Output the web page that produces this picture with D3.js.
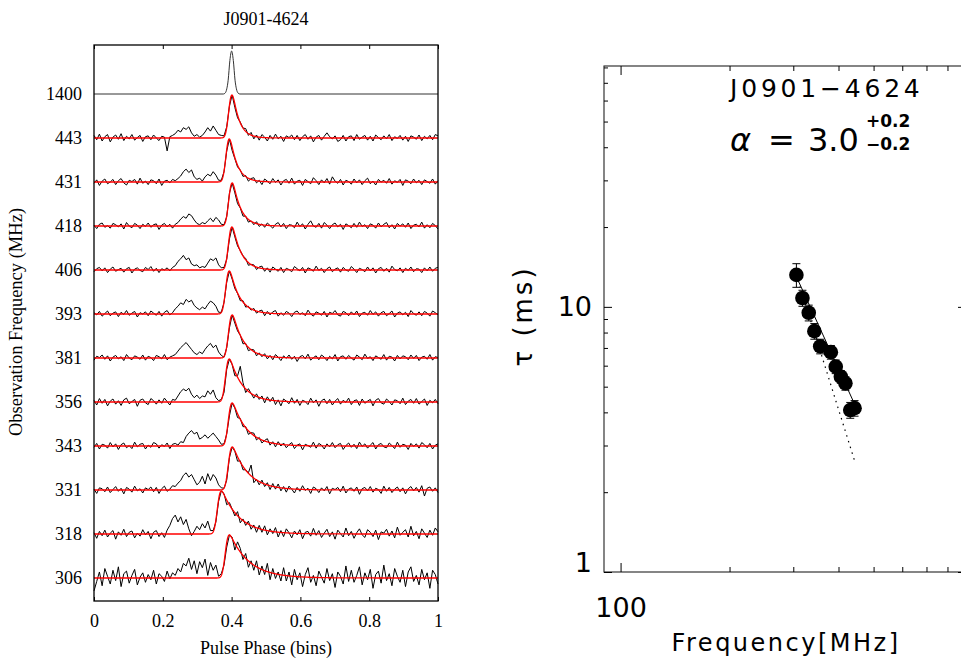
<!DOCTYPE html>
<html>
<head>
<meta charset="utf-8">
<script src="https://cdnjs.cloudflare.com/ajax/libs/d3/7.8.5/d3.min.js"></script>
<style>
  body { margin: 0; background: #fff; }
</style>
</head>
<body>
<div id="chart"></div>
<script>
// ---- left panel: profiles per observing channel (top to bottom) ----
const channelLabels = ['1400', '443', '431', '418', '406', '393', '381', '356', '343', '331', '318', '306'];
const phaseTicks = [0, 0.2, 0.4, 0.6, 0.8, 1];

// 1400 MHz template, [phase, relative flux]
const template1400 = [[0, 0], [0.376, 0], [0.381, 0.02], [0.386, 0.12], [0.39, 0.32], [0.395, 0.78],
  [0.4, 1], [0.405, 0.78], [0.41, 0.32], [0.414, 0.12], [0.419, 0.02], [0.424, 0], [1, 0]];

// observed profiles, 128 phase bins, % of peak
const prof443 = [6, -4, 9, -7, 3, 8, -9, 2, 7, -3, 10, -6, 4, -2, 8, -5, 1, 6, -8, 3,
  5, -4, 7, 0, -6, 4, 2, -30, 3, 6, 10, 18, 14, 24, 20, 26, 12, 4, 8, 2,
  6, 14, 24, 16, 28, 18, 8, 6, 5, 26, 74, 100, 71, 47, 37, 23, 22, 6, 13, -2,
  7, -5, 8, 2, -7, 6, -3, 9, -2, 4, -8, 5, 1, 7, -4, 6, -6, 3, 8, -3,
  5, -9, 2, 6, -5, 4, 12, 3, -2, 5, -8, -4, 6, -7, 3, 5, -6, 8, -3, 2,
  6, -5, 4, -7, 7, 1, -4, 5, -2, 8, -6, 3, -1, 6, -5, 4, -8, 5, 2, -3,
  7, -6, 4, -2, 6, -4, 8, 5];
const prof431 = [-3, 5, -8, 2, 7, -4, 0, 6, -6, 3, 8, -2, -7, 4, 1, 6, -5, 9, -3, 2,
  -6, 5, 3, -4, 7, -8, 2, 4, -2, 6, 3, 8, 14, 24, 30, 22, 28, 12, 6, 9,
  2, 12, 18, 14, 24, 16, 4, 4, 24, 72, 100, 73, 54, 35, 28, 13, 15, 2, 8, 10,
  -2, 4, -6, 7, 2, -4, 8, -1, 5, -7, 3, 6, -3, 9, -5, 2, 4, -8, 6, 1,
  -4, 10, 3, -6, 5, -2, 8, -5, 12, 2, -3, 6, -7, 4, 1, -5, 7, -2, 5, -6,
  3, 9, -4, 2, -7, 6, 0, 4, -3, 8, -5, 3, -1, 6, -8, 5, 2, -4, 7, -2,
  4, -6, 5, 1, -3, 7, -5, 3];
const prof418 = [2, -6, 4, 7, -3, 1, -5, 6, 3, -2, 5, -7, 8, 0, -4, 6, 2, -6, 4, -1,
  7, -3, 3, 5, -8, 2, 6, -2, 4, -5, 4, 8, 16, 22, 18, 28, 24, 14, 6, 3,
  8, 5, 12, 18, 10, 20, 14, 4, 3, 22, 76, 100, 77, 52, 42, 23, 23, 9, 12, 3,
  10, -1, 5, -3, 7, 1, -5, 4, 8, -2, 6, -6, 3, 2, -4, 9, -1, 5, -7, 4,
  12, 0, -3, 6, -5, 8, 2, -6, 3, 7, -2, 4, -8, 5, 1, -4, 6, -3, 9, -1,
  3, -6, 5, 2, -5, 7, -2, 4, 8, -4, 3, -7, 6, 0, 5, -3, 7, -6, 2, 4,
  -2, 9, -5, 3, -4, 6, 1, -7];
const prof406 = [-4, 3, 6, -2, 5, -6, 2, 7, -3, 1, 4, -5, 3, 6, -7, 2, 5, -1, -4, 6,
  1, 8, -3, 4, -6, 3, 0, 5, -2, 6, 10, 20, 26, 34, 24, 28, 14, 10, 12, 5,
  8, 6, 16, 26, 22, 28, 12, 5, 6, 25, 72, 100, 77, 56, 45, 33, 27, 11, 13, 12,
  1, 7, 9, -3, 5, -5, 7, 2, -3, 6, -6, 4, 1, -4, 8, 3, -2, 6, -7, 5,
  2, -3, 9, -1, 4, -6, 3, 7, -4, 2, 5, -5, 6, 0, -3, 8, 2, -6, 4, 1,
  -4, 7, -2, 5, -7, 3, 6, -3, 4, -5, 9, 1, -2, 5, -6, 4, -1, 7, -4, 3,
  2, -6, 5, -2, 7, -3, 4, 6];
const prof393 = [3, -2, 6, -5, 1, 7, -4, 2, 5, -6, 4, -1, 8, -3, 2, 6, -7, 3, 0, 5,
  -4, 7, 2, -3, 6, -5, 4, 8, -2, 3, 12, 18, 26, 22, 34, 28, 32, 20, 14, 10,
  16, 12, 22, 30, 26, 18, 4, 4, 27, 74, 100, 81, 59, 48, 31, 31, 16, 18, 9, 13,
  2, 7, 9, -4, 6, -2, 5, 8, -5, 3, -3, 6, 2, -6, 4, 7, -1, 3, -4, 9,
  0, -5, 5, 2, -3, 6, -7, 4, 1, 8, -2, -5, 6, 3, -4, 5, -2, 7, -6, 2,
  4, -3, 8, -1, 5, -5, 3, 6, -4, 1, 7, -7, 2, 5, -2, 4, -6, 8, 1, -3,
  5, -4, 6, 2, -5, 7, 3, -2];
const prof381 = [-5, 4, 1, 7, -3, 5, -7, 2, 6, -2, 3, -6, 8, 0, -4, 5, 2, -3, 7, -5,
  4, 1, -6, 6, 3, -2, 8, -4, 2, 5, 8, 16, 24, 30, 36, 28, 20, 12, 8, 14,
  10, 20, 28, 34, 24, 30, 14, 6, 2, 24, 70, 100, 81, 63, 53, 33, 34, 17, 20, 19,
  5, 12, 3, 10, -2, 6, -4, 8, 2, -6, 5, -1, 7, -3, 4, -8, 3, 6, -2, 9,
  -5, 1, 5, -4, 7, 2, -6, 4, -2, 8, -7, 3, 5, -3, 6, 0, -5, 7, 2, -4,
  9, -1, 3, -6, 5, 1, -3, 8, -5, 4, 2, -7, 6, -2, 5, 3, -4, 7, -1, 6,
  -6, 2, 4, -3, 8, -5, 3, 1];
const prof356 = [4, -7, 8, -3, 6, -9, 2, 7, -5, 3, -8, 5, 9, -4, 1, 6, -10, 4, 7, -2,
  -6, 8, 3, -5, 5, -3, 9, 1, -7, 6, 4, 14, 24, 30, 26, 32, 18, 10, 16, 8,
  14, 12, 26, 18, 28, 10, 3, 6, 22, 76, 100, 87, 61, 61, 83, 45, 22, 31, 20, 9,
  19, 6, 14, -2, 12, 1, 11, -6, 5, -9, 7, 2, -4, 10, -3, 6, -8, 4, 1, -6,
  9, -2, 5, -10, 3, 7, -4, 6, -7, 2, 8, -5, 4, -1, 9, -6, 3, 5, -8, 7,
  -3, 2, 6, -9, 4, 8, -2, -5, 7, 1, -7, 5, 3, -4, 9, -6, 2, 6, -3, 8,
  -5, 1, 7, -8, 4, -2, 6, -4];
const prof343 = [-3, 6, -7, 4, 2, -5, 8, -2, 5, -8, 3, 7, -4, 1, -6, 9, -2, 4, 6, -7,
  2, -3, 8, 5, -5, 3, -1, 7, -6, 4, 6, 2, 10, 8, 22, 30, 36, 28, 32, 16,
  20, 26, 18, 24, 30, 22, 14, 4, 5, 28, 70, 100, 88, 66, 64, 45, 45, 27, 31, 30,
  14, 20, 7, 13, 17, 2, 10, -2, 10, 0, 7, -4, 3, 8, -6, 2, 5, -9, 4, 1,
  -3, 9, -5, 6, 2, -7, 5, -2, 8, -4, 3, 6, -8, 1, 7, -3, 4, -6, 9, -1,
  5, -5, 2, 8, -7, 3, 6, -2, -4, 7, 1, -6, 9, -3, 4, 2, -8, 6, -1, 5,
  -5, 8, 3, -4, 6, -7, 2, 5];
const prof331 = [2, -8, 5, 3, -4, 7, -6, 1, 8, -3, 4, -9, 6, 2, -5, 9, -2, 3, -7, 5,
  1, 7, -4, 6, -8, 3, 9, -3, 2, 10, 8, 16, 22, 34, 40, 30, 36, 24, 12, 18,
  32, 14, 38, 22, 36, 28, 12, 5, 4, 23, 75, 100, 90, 67, 68, 47, 47, 40, 58, 17,
  25, 12, 23, 8, 17, 1, 15, 2, 14, -2, 8, -5, 9, 2, -7, 6, -3, 10, -1, 4,
  -8, 7, 3, -6, 5, -2, 8, -9, 4, 1, 6, -4, 9, -7, 2, 5, -3, 7, -10, 3,
  6, -2, 8, -5, 4, 1, -8, 9, -3, 6, -6, 2, 7, -4, 5, -9, 3, 8, -2, 6,
  -5, 10, -14, 4, 7, -3, 5, -6];
const prof318 = [3, -10, 6, -4, 9, -7, 2, 8, -12, 5, -3, 11, -6, 4, 7, -9, 2, -5, 10, -2,
  6, -11, 4, 8, -6, 3, -8, 9, 20, 36, 44, 28, 40, 22, 34, 12, -4, 6, 18, 10,
  24, 14, 30, 8, 8, 28, 76, 100, 94, 68, 73, 58, 42, 52, 26, 35, 20, 30, 11, 21,
  4, 20, 4, 19, -2, 12, 1, 15, -7, 8, -6, 12, 3, -9, 7, -2, 10, -11, 4, 6,
  -5, 13, -3, 8, -8, 2, 11, -6, 5, -12, 9, 1, -7, 14, -4, 6, -10, 3, 12, -2,
  -8, 10, 4, -6, 9, -13, 5, 2, 11, -5, 7, -9, 16, -3, 4, 10, -7, 18, -4, 6,
  -11, 12, 2, -8, 9, -3, 14, 5];
const prof306 = [-30, -8, 14, -18, 22, 4, -14, 18, -6, 26, -20, 10, 16, -12, 6, 20, -16, 2, 12, -10,
  8, -4, 18, -14, 10, 4, -8, 16, -2, 12, 6, 22, 14, 34, 28, 46, 20, 40, 10, 38,
  24, 44, 6, 36, 18, 30, 4, 10, 30, 72, 100, 95, 65, 84, 69, 43, 57, 25, 40, 18,
  40, 7, 28, 8, 34, -4, 22, -1, 14, -7, 24, -7, 14, -16, 20, -4, 12, -20, 8, 24,
  -10, 6, -18, 16, 2, -12, 22, -6, 10, -22, 14, 4, -14, 28, -8, 18, -10, 6, 26, -16,
  12, -4, 20, -24, 8, 16, -12, 30, -6, 10, -18, 22, 4, -10, 18, -20, 14, 26, -8, 6,
  -16, 20, -4, 12, -24, 18, 8, -14];

// scattering fit: gaussian (centre, width) * one-sided exponential (tau), phase units, channels 443 ... 306
const fitCenter = [0.393, 0.385, 0.393, 0.392, 0.384, 0.392, 0.383, 0.391, 0.391, 0.359, 0.382];
const fitSigma = [0.007, 0.007, 0.007, 0.007, 0.007, 0.007, 0.007, 0.007, 0.007, 0.007, 0.007];
const fitTau = [0.019, 0.021, 0.023, 0.025, 0.028, 0.031, 0.037, 0.042, 0.046, 0.051, 0.056];

// ---- right panel: tau vs frequency ----
const scatFreq = [306, 318, 331, 343, 356, 381, 393, 406, 418, 431, 443];
const scatTau = [13.2, 10.8, 9.5, 8.1, 7.1, 6.75, 5.95, 5.45, 5.15, 4.08, 4.15];
const scatErr = [1.35, 0.75, 0.65, 0.55, 0.45, 0.4, 0.35, 0.3, 0.3, 0.28, 0.28];
const fitLineF = [306, 443];
const fitLineTau = [13.0, 4.3];     // alpha = 3.0
const refLineTau = [13.2, 2.63];    // alpha = 4.4
const tauMajor = [1, 10];
const tauMinor = [2, 3, 4, 5, 6, 7, 8, 9, 20, 30, 40, 50, 60, 70, 80];
const freqMajor = [100];
const freqMinor = [200, 300, 400, 500, 600, 700, 800];

const serif = '"Liberation Serif", "Times New Roman", serif';
const sans = '"DejaVu Sans", "Liberation Sans", sans-serif';

const svg = d3.select('#chart').append('svg')
  .attr('width', 961)
  .attr('height', 663)
  .style('background', '#fff');

// ============ left panel ============
const xPhase = d3.scaleLinear().domain([0, 1]).range([94, 438]);
const yChan = d3.scalePoint().domain(channelLabels).range([94, 578]);
const yAmp = d3.scaleLinear().domain([0, 100]).range([0, -43]);
const leftTop = 45, leftBottom = 601;

const lowProfiles = [prof443, prof431, prof418, prof406, prof393, prof381,
  prof356, prof343, prof331, prof318, prof306];

// black observed profiles
lowProfiles.forEach((prof, k) => {
  const lab = channelLabels[k + 1];
  const n = prof.length;
  const line = d3.line()
    .x((d, i) => xPhase(i / (n - 1)))
    .y((d) => yChan(lab) + yAmp(d));
  svg.append('path')
    .datum(prof)
    .attr('d', line)
    .attr('fill', 'none')
    .attr('stroke', '#000')
    .attr('stroke-width', 1);
});

// red scattering models: gaussian convolved with exponential tail, peak normalised
const phaseGrid = d3.range(0, 1.0005, 0.001);
function scatterModel(k) {
  const mu = fitCenter[k], s = fitSigma[k], t = fitTau[k];
  const vals = phaseGrid.map((p) => {
    let sum = 0;
    for (let q = mu - 5 * s; q <= Math.min(p, mu + 5 * s); q += 0.0005) {
      sum += Math.exp(-0.5 * ((q - mu) / s) ** 2) * Math.exp(-(p - q) / t);
    }
    return sum;
  });
  const m = d3.max(vals);
  return vals.map((v, i) => [phaseGrid[i], 100 * v / m]);
}
fitTau.forEach((t, k) => {
  const lab = channelLabels[k + 1];
  const line = d3.line()
    .x((d) => xPhase(d[0]))
    .y((d) => yChan(lab) + yAmp(d[1]));
  svg.append('path')
    .datum(scatterModel(k))
    .attr('d', line)
    .attr('fill', 'none')
    .attr('stroke', '#ff0000')
    .attr('stroke-width', 1.3);
});

// 1400 MHz template
svg.append('path')
  .datum(template1400)
  .attr('d', d3.line()
    .x((d) => xPhase(d[0]))
    .y((d) => yChan('1400') + yAmp(d[1] * 100))
    .curve(d3.curveMonotoneX))
  .attr('fill', 'none')
  .attr('stroke', '#333')
  .attr('stroke-width', 1);

svg.append('rect')
  .attr('x', xPhase(0))
  .attr('y', leftTop)
  .attr('width', xPhase(1) - xPhase(0))
  .attr('height', leftBottom - leftTop)
  .attr('fill', 'none')
  .attr('stroke', '#000')
  .attr('stroke-width', 1.3);

const gxb = svg.append('g')
  .attr('transform', `translate(0,${leftBottom})`)
  .call(d3.axisBottom(xPhase).tickValues(phaseTicks).tickSize(-4).tickPadding(13).tickFormat((d) => String(d)));
gxb.select('.domain').remove();
gxb.attr('font-family', serif).attr('font-size', 18);

const gxt = svg.append('g')
  .attr('transform', `translate(0,${leftTop})`)
  .call(d3.axisTop(xPhase).tickValues(phaseTicks).tickSize(-4).tickFormat(''));
gxt.select('.domain').remove();

const gyl = svg.append('g')
  .attr('transform', `translate(${xPhase(0)},0)`)
  .call(d3.axisLeft(yChan).tickSize(0).tickPadding(12));
gyl.select('.domain').remove();
gyl.attr('font-family', serif).attr('font-size', 18);

svg.append('text')
  .attr('x', 266).attr('y', 25)
  .attr('text-anchor', 'middle')
  .attr('font-family', serif).attr('font-size', 18)
  .text('J0901-4624');

svg.append('text')
  .attr('x', 266).attr('y', 654)
  .attr('text-anchor', 'middle')
  .attr('font-family', serif).attr('font-size', 18)
  .text('Pulse Phase (bins)');

svg.append('text')
  .attr('transform', 'translate(22,322) rotate(-90)')
  .attr('text-anchor', 'middle')
  .attr('font-family', serif).attr('font-size', 18.5)
  .text('Observation Frequency (MHz)');

// ============ right panel ============
const xFreq = d3.scaleLog().domain([90, 900]).range([604, 966]);
const yTau = d3.scaleLog().domain([1, 81]).range([572, 66]);
const [fx0, fx1] = xFreq.range();
const [fyB, fyT] = yTau.range();

svg.append('rect')
  .attr('x', fx0).attr('y', fyT)
  .attr('width', fx1 - fx0).attr('height', fyB - fyT)
  .attr('fill', 'none')
  .attr('stroke', '#222')
  .attr('stroke-width', 1.1);

function addAxis(axis, tx, ty, labels) {
  const g = svg.append('g').attr('transform', `translate(${tx},${ty})`).call(axis);
  g.select('.domain').remove();
  g.selectAll('line').attr('stroke', '#000');
  g.attr('font-family', sans).attr('font-size', 27);
  if (!labels) g.selectAll('text').remove();
  return g;
}

const gLeftMajor = addAxis(d3.axisLeft(yTau).tickValues(tauMajor).tickSize(-8).tickPadding(12).tickFormat(d3.format('d')), fx0, 0, true);
gLeftMajor.selectAll('text').filter((d) => d === 1).attr('dy', '-0.02em');
addAxis(d3.axisLeft(yTau).tickValues(tauMinor).tickSize(-4), fx0, 0, false);
addAxis(d3.axisRight(yTau).tickValues(tauMajor).tickSize(-8), fx1, 0, false);
addAxis(d3.axisRight(yTau).tickValues(tauMinor).tickSize(-4), fx1, 0, false);
addAxis(d3.axisBottom(xFreq).tickValues(freqMajor).tickSize(-9).tickPadding(26).tickFormat(d3.format('d')), 0, fyB, true);
addAxis(d3.axisBottom(xFreq).tickValues(freqMinor).tickSize(-5), 0, fyB, false);
addAxis(d3.axisTop(xFreq).tickValues(freqMajor).tickSize(-9), 0, fyT, false);
addAxis(d3.axisTop(xFreq).tickValues(freqMinor).tickSize(-5), 0, fyT, false);

// reference (dotted) and fitted (solid) power laws
const powLine = d3.line().x((d) => xFreq(d[0])).y((d) => yTau(d[1]));
svg.append('path')
  .datum(fitLineF.map((f, i) => [f, refLineTau[i]]))
  .attr('d', powLine)
  .attr('fill', 'none')
  .attr('stroke', '#000')
  .attr('stroke-width', 1.2)
  .attr('stroke-dasharray', '1.5,4.5');
svg.append('path')
  .datum(fitLineF.map((f, i) => [f, fitLineTau[i]]))
  .attr('d', powLine)
  .attr('fill', 'none')
  .attr('stroke', '#000')
  .attr('stroke-width', 1);

const pts = scatFreq.map((f, i) => ({ f, t: scatTau[i], e: scatErr[i] }));
const eg = svg.append('g').attr('stroke', '#000').attr('stroke-width', 1);
eg.selectAll('.ebar').data(pts).enter().append('line')
  .attr('class', 'ebar')
  .attr('x1', (d) => xFreq(d.f)).attr('x2', (d) => xFreq(d.f))
  .attr('y1', (d) => yTau(d.t - d.e)).attr('y2', (d) => yTau(d.t + d.e));
['lo', 'hi'].forEach((side) => {
  eg.selectAll('.cap' + side).data(pts).enter().append('line')
    .attr('class', 'cap' + side)
    .attr('x1', (d) => xFreq(d.f) - 4).attr('x2', (d) => xFreq(d.f) + 4)
    .attr('y1', (d) => yTau(side === 'lo' ? d.t - d.e : d.t + d.e))
    .attr('y2', (d) => yTau(side === 'lo' ? d.t - d.e : d.t + d.e));
});
svg.selectAll('.pt').data(pts).enter().append('circle')
  .attr('class', 'pt')
  .attr('cx', (d) => xFreq(d.f))
  .attr('cy', (d) => yTau(d.t))
  .attr('r', 7.3)
  .attr('fill', '#000');

// labels
svg.append('text')
  .attr('x', 730).attr('y', 97)
  .attr('font-family', sans).attr('font-size', 25)
  .attr('letter-spacing', 3.8)
  .text('J0901\u22124624');
const alphaText = svg.append('text')
  .attr('x', 730).attr('y', 151)
  .attr('font-family', sans).attr('font-size', 32);
alphaText.append('tspan').attr('font-style', 'italic').text('\u03b1');
alphaText.append('tspan').attr('x', 768).text('=');
alphaText.append('tspan').attr('x', 808).text('3.0');
svg.append('text')
  .attr('x', 866).attr('y', 127)
  .attr('font-family', sans).attr('font-size', 17).attr('font-weight', 'bold')
  .text('+0.2');
svg.append('text')
  .attr('x', 866).attr('y', 150)
  .attr('font-family', sans).attr('font-size', 17).attr('font-weight', 'bold')
  .text('\u22120.2');

svg.append('text')
  .attr('transform', 'translate(532,316) rotate(-90)')
  .attr('text-anchor', 'middle')
  .attr('font-family', sans).attr('font-size', 26)
  .attr('letter-spacing', 3)
  .text('\u03c4 (ms)');

svg.append('text')
  .attr('x', 786).attr('y', 651)
  .attr('text-anchor', 'middle')
  .attr('font-family', sans).attr('font-size', 24)
  .attr('letter-spacing', 2.5)
  .text('Frequency[MHz]');
</script>
</body>
</html>
